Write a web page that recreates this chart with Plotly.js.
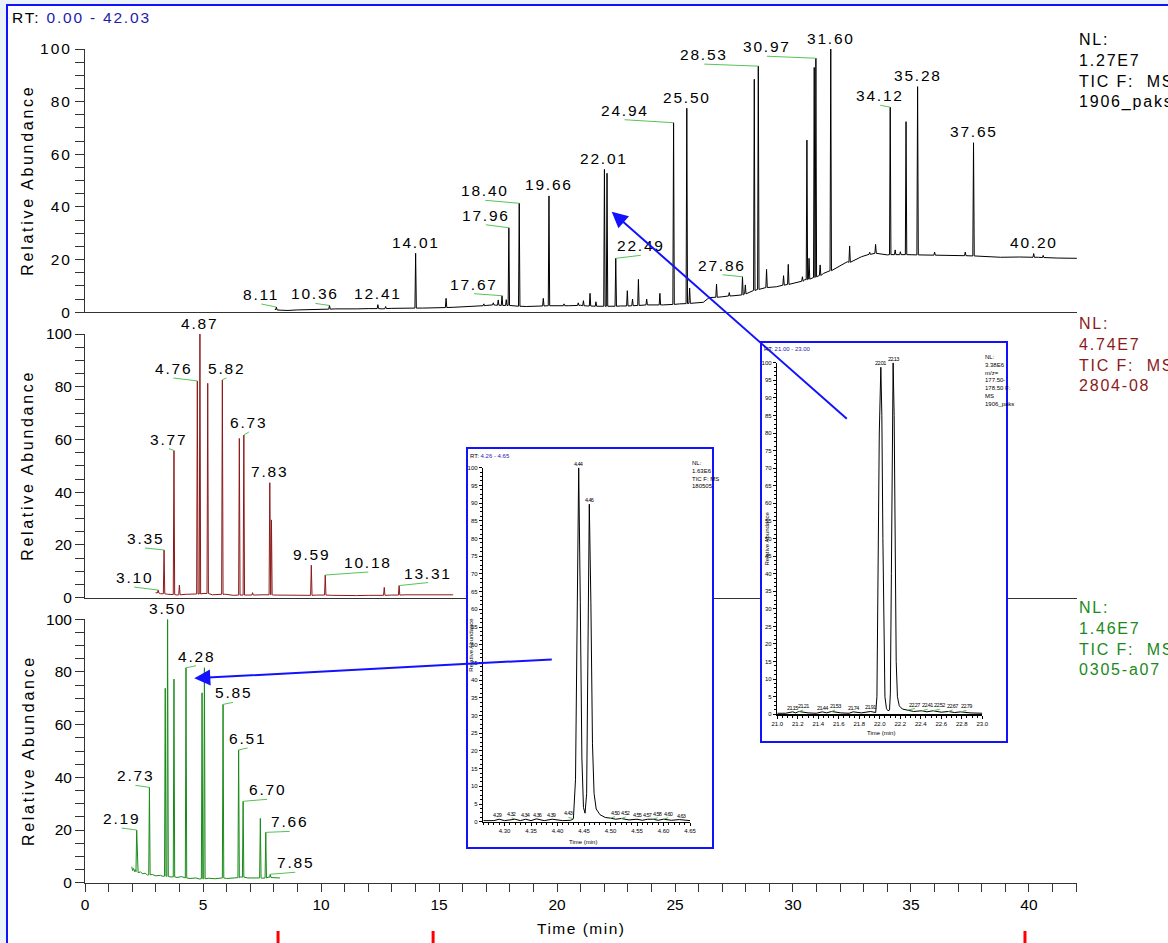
<!DOCTYPE html>
<html>
<head>
<meta charset="utf-8">
<script src="https://cdn.plot.ly/plotly-3.0.1.min.js"></script>
<style>
  html, body { margin: 0; padding: 0; background: #eaf2fa; }
  #chart { width: 1168px; height: 943px; }
  .subplot.xy .ytick text,
  .subplot.x2y2 .ytick text,
  .subplot.x3y3 .ytick text,
  .subplot.x3y3 .xtick text { letter-spacing: 2px; }
</style>
</head>
<body>
<div id="chart"></div>
<script>
// ---------- TIC trace 1906_paks (black) ----------
const p1BaseRt    = [8.05, 8.3, 8.6, 9.0, 9.5, 10.0, 10.6, 11.0, 11.5, 12.0, 12.6, 13.0, 13.5, 14.3, 15.0, 15.6, 16.0, 16.5, 17.0, 17.2, 17.4, 17.8, 18.2, 18.7, 19.2, 19.9, 20.5, 21.0, 21.3, 21.8, 22.3, 22.7, 23.3, 23.9, 24.5, 25.2, 25.8, 26.2, 26.45, 27.0, 27.5, 28.0, 28.7, 29.3, 30.0, 30.5, 31.3, 31.8, 32.3, 32.9, 33.5, 34.0, 35.0, 36.5, 37.2, 38.0, 38.8, 39.6, 40.4, 41.2, 42.03];
const p1BaseLevel = [1.2, 0.8, 0.7, 0.9, 1.0, 1.1, 1.3, 1.2, 1.3, 1.4, 1.3, 1.5, 1.5, 1.6, 1.7, 1.9, 2.1, 2.3, 2.6, 2.9, 2.7, 2.6, 2.3, 2.2, 2.4, 2.6, 2.5, 2.7, 2.4, 2.3, 2.2, 2.4, 2.6, 2.8, 2.8, 3.2, 3.5, 3.8, 5.6, 5.9, 6.3, 7.5, 9.1, 9.7, 11.0, 12.4, 14.8, 16.7, 19.2, 21.1, 22.6, 21.8, 21.8, 21.6, 21.5, 21.2, 20.9, 21.0, 20.9, 20.6, 20.5];
const p1PeakRt     = [8.11, 10.36, 12.41, 12.74, 14.01, 15.30, 16.90, 17.30, 17.51, 17.67, 17.85, 17.96, 18.40, 19.42, 19.66, 20.30, 20.90, 21.12, 21.40, 21.65, 22.01, 22.12, 22.49, 22.98, 23.20, 23.45, 23.80, 24.36, 24.94, 25.50, 25.62, 26.76, 27.30, 27.86, 27.98, 28.36, 28.53, 28.88, 29.60, 29.80, 30.40, 30.59, 30.68, 30.90, 30.97, 31.15, 31.60, 32.40, 33.25, 33.50, 34.12, 34.33, 34.55, 34.79, 35.28, 36.00, 37.30, 37.65, 40.20, 40.60];
const p1PeakHeight = [2.0, 2.6, 2.9, 2.2, 22.4, 5.3, 3.2, 3.6, 4.7, 6.3, 4.8, 32.1, 41.4, 5.3, 44.2, 3.2, 3.6, 4.4, 7.2, 4.0, 54.3, 52.8, 20.5, 8.2, 5.0, 12.5, 5.0, 7.2, 72.0, 77.5, 9.2, 10.7, 7.5, 13.5, 10.4, 88.5, 93.5, 16.3, 13.9, 18.2, 13.5, 65.4, 20.5, 93.0, 96.5, 18.0, 100, 25.2, 22.8, 25.8, 77.9, 23.7, 23.0, 72.4, 85.7, 22.9, 22.9, 64.4, 22.3, 21.6];
const p1PeakFoot   = [0.9, 1.2, 1.4, 1.4, 1.6, 1.8, 2.5, 2.8, 2.7, 2.6, 2.6, 2.6, 2.3, 2.4, 2.5, 2.5, 2.6, 2.5, 2.4, 2.3, 2.3, 2.3, 2.3, 2.4, 2.5, 2.6, 2.8, 2.8, 3.0, 3.3, 3.4, 5.7, 6.2, 6.6, 7.0, 8.3, 8.7, 9.4, 10.3, 10.6, 11.8, 12.4, 12.6, 13.2, 13.5, 14.0, 15.8, 19.0, 22.0, 22.4, 21.9, 21.9, 21.9, 21.9, 21.8, 21.7, 21.5, 21.4, 20.9, 20.8];
const p1Labels     = [8.11, 10.36, 12.41, 14.01, 17.67, 17.96, 18.40, 19.66, 22.01, 22.49, 24.94, 25.50, 27.86, 28.53, 30.97, 31.60, 34.12, 35.28, 37.65, 40.20];

// ---------- TIC trace 2804-08 (dark red) ----------
const p2BaseRt    = [2.99, 3.2, 3.5, 3.9, 4.3, 4.6, 5.0, 5.4, 5.95, 6.3, 7.0, 7.5, 8.0, 8.8, 9.4, 9.8, 10.5, 11.0, 11.5, 12.0, 12.5, 13.0, 13.6, 14.5, 15.0, 15.6];
const p2BaseLevel = [1.9, 1.5, 1.3, 1.0, 1.3, 1.5, 1.6, 1.1, 1.3, 0.9, 1.0, 1.1, 1.0, 0.9, 0.9, 1.0, 0.9, 0.8, 0.8, 0.9, 1.0, 1.0, 1.1, 1.0, 1.0, 1.1];
const p2PeakRt     = [3.10, 3.35, 3.77, 4.00, 4.76, 4.87, 5.20, 5.82, 6.54, 6.73, 7.10, 7.83, 7.90, 9.59, 10.18, 12.68, 13.31];
const p2PeakHeight = [2.9, 18.1, 55.8, 4.8, 82.2, 100, 81.3, 82.6, 60.4, 61.7, 1.9, 43.6, 29.5, 12.3, 8.6, 3.9, 4.6];
const p2PeakFoot   = [1.8, 1.5, 1.2, 1.1, 1.4, 1.4, 1.6, 1.3, 1.0, 1.0, 1.0, 1.1, 1.1, 0.9, 1.0, 0.9, 1.0];
const p2Labels     = [3.10, 3.35, 3.77, 4.76, 4.87, 5.82, 6.73, 7.83, 9.59, 10.18, 13.31];

// ---------- TIC trace 0305-a07 (green) ----------
const p3BaseRt    = [1.98, 2.02, 2.06, 2.10, 2.14, 2.25, 2.35, 2.45, 2.55, 2.65, 2.85, 3.00, 3.20, 3.30, 3.60, 3.90, 4.10, 4.45, 4.70, 4.85, 5.25, 5.50, 5.70, 6.00, 6.30, 6.60, 6.90, 7.20, 7.50, 7.80, 8.00, 8.26];
const p3BaseLevel = [6.1, 4.6, 5.4, 4.2, 4.9, 3.8, 4.1, 3.4, 3.6, 2.9, 3.1, 2.6, 2.8, 2.4, 2.2, 2.0, 2.3, 1.6, 1.8, 1.4, 1.7, 1.5, 1.8, 1.6, 1.7, 2.2, 1.8, 1.9, 1.7, 2.2, 1.9, 1.8];
const p3PeakRt     = [2.19, 2.73, 3.40, 3.50, 3.77, 4.28, 4.96, 5.06, 5.85, 6.51, 6.70, 7.43, 7.66, 7.85];
const p3PeakHeight = [20.0, 36.2, 73.8, 100, 77.3, 81.6, 72.1, 81.6, 67.7, 50.4, 30.9, 24.4, 19.1, 3.2];
const p3PeakFoot   = [4.2, 3.0, 2.5, 2.4, 2.2, 1.8, 1.5, 1.5, 1.8, 1.9, 2.1, 1.8, 1.8, 2.0];
const p3Labels     = [2.19, 2.73, 3.50, 4.28, 5.85, 6.51, 6.70, 7.66, 7.85];

// ---------- zoomed window 21.00-23.00 min, m/z 177.50-178.50 ----------
const insetARt    = [21.00, 21.08, 21.15, 21.18, 21.21, 21.30, 21.38, 21.44, 21.48, 21.53, 21.62, 21.70, 21.74, 21.82, 21.91, 21.96, 21.972, 21.985, 21.995, 22.01, 22.02, 22.03, 22.04, 22.05, 22.065, 22.08, 22.095, 22.103, 22.113, 22.122, 22.13, 22.14, 22.15, 22.16, 22.172, 22.19, 22.22, 22.27, 22.33, 22.41, 22.46, 22.52, 22.60, 22.67, 22.73, 22.79, 22.88, 23.00];
const insetAAbund = [0.3, 0.3, 0.7, 0.4, 0.8, 0.4, 0.3, 0.7, 0.4, 0.8, 0.4, 0.3, 0.7, 0.4, 0.8, 0.5, 5, 40, 80, 98.7, 85, 50, 18, 5, 1.6, 1.0, 1.2, 6, 40, 82, 100, 85, 48, 15, 5, 2.4, 1.5, 1.2, 0.8, 1.0, 0.7, 1.0, 0.6, 0.8, 0.5, 0.7, 0.4, 0.3];
const insetAMajor = [22.01, 22.13];
const insetAMinor = [21.15, 21.21, 21.44, 21.53, 21.74, 21.91, 22.27, 22.41, 22.52, 22.67, 22.79];

// ---------- zoomed window 4.26-4.65 min ----------
const insetBRt    = [4.26, 4.28, 4.29, 4.30, 4.32, 4.33, 4.34, 4.35, 4.36, 4.375, 4.39, 4.41, 4.425, 4.43, 4.434, 4.437, 4.44, 4.443, 4.446, 4.449, 4.452, 4.455, 4.458, 4.46, 4.463, 4.466, 4.469, 4.473, 4.48, 4.49, 4.50, 4.51, 4.52, 4.535, 4.55, 4.56, 4.57, 4.58, 4.59, 4.60, 4.615, 4.63, 4.65];
const insetBAbund = [0.3, 0.3, 0.7, 0.3, 0.7, 0.3, 0.7, 0.3, 0.8, 0.3, 0.7, 0.3, 0.4, 0.8, 12, 60, 100, 62, 18, 4, 2.4, 8, 55, 89.7, 62, 22, 8, 3.6, 2.0, 1.2, 1.0, 0.7, 0.9, 0.5, 0.7, 0.4, 0.7, 0.7, 0.4, 0.7, 0.4, 0.6, 0.3];
const insetBMajor = [4.44, 4.46];
const insetBMinor = [4.29, 4.32, 4.34, 4.36, 4.39, 4.43, 4.50, 4.52, 4.55, 4.57, 4.58, 4.60, 4.63];

// bottom event marks (min)
const eventMarks = [8.18, 14.75, 39.83];

// ---------- placement of labels (pixel offsets of the leader tail from the apex) ----------
const p1LabelOffset = [[-15,-3],[-14,-2],null,null,[-28,-2],[-23,-3],[-34,-3],null,null,[25,-3],[-49,-3],null,[-20,-2],[-54,-2],[-49,-2],null,[-10,-2],null,null,null];
const p2LabelOffset = [[-24,-3],[-19,-2],[-5,-2],[-24,-3],null,[4,-2],[5,-3],null,null,[43,-3],[29,-3]];
const p3LabelOffset = [[-15,-2],[-14,-2],null,[10,-2],[10,-2],[9,-2],[24,-2],[24,-1],[25,-2]];
const insetAMinorShift = [-0.5, 4.5, 0, 3.4, 0, 0, 7.5, 5.8, 6.8, 4, 5.8];
const insetBMinorShift = [-1.5, -3.4, 0, 1.4, -1.2, -5, 4.5, 4.6, 0, 0, 4.8, 4.8, 1.6];

// ---------- styling ----------
const W = 1168, H = 943;
const fx = p => p / W;
const fy = p => 1 - p / H;
const FONT = 'Liberation Sans, Arial, sans-serif';
const NARROW = 'Liberation Sans Narrow, Liberation Sans, Arial, sans-serif';
const AXIS = '#333333';
const LEADER = '#55c455';
const BLUE = '#1212ff';
const RED_TRACE = '#8b1a1a';
const GREEN_TRACE = '#1a8a1a';
const HW = 0.03; // half width of a peak foot, minutes

const spaced = (t, ls, color) =>
  `<span style="${color ? 'color:' + color + ';' : ''}letter-spacing:${ls}px">${t}</span>`;

function chromatogram(baseRt, baseLevel, peakRt, peakHeight, peakFoot) {
  const pts = [];
  baseRt.forEach((r, i) => {
    if (peakRt.every(p => Math.abs(p - r) > HW)) pts.push([r, baseLevel[i]]);
  });
  peakRt.forEach((r, i) => {
    pts.push([r - HW, peakFoot[i]], [r, peakHeight[i]], [r + HW, peakFoot[i]]);
  });
  pts.sort((a, b) => a[0] - b[0]);
  return { x: pts.map(p => p[0]), y: pts.map(p => p[1]) };
}

function peakLabels(labels, offsets, peakRt, peakHeight, xref, yref) {
  return labels.map((r, i) => {
    const a = {
      x: r, y: peakHeight[peakRt.indexOf(r)], xref, yref,
      text: spaced(r.toFixed(2), 1.8), font: { size: 15.5, color: '#000', family: FONT },
      borderpad: 0, xanchor: 'center'
    };
    const off = offsets[i];
    if (off) Object.assign(a, { showarrow: true, arrowhead: 0, arrowwidth: 1, arrowcolor: LEADER,
      ax: off[0], ay: off[1], yanchor: 'bottom', standoff: 0 });
    else Object.assign(a, { showarrow: false, yanchor: 'middle', yshift: 11 });
    return a;
  });
}

function insetLabels(labels, shifts, rt, ab, xref, yref) {
  return labels.map((r, i) => {
    const a = { x: r, y: ab[rt.indexOf(r)], xref, yref, text: spaced(r.toFixed(2), -0.6),
      font: { size: 5.5, color: '#000', family: NARROW }, borderpad: 0, xanchor: 'center', yanchor: 'bottom' };
    const s = shifts ? shifts[i] : 0;
    if (Math.abs(s) >= 3) Object.assign(a, { showarrow: true, arrowhead: 0, arrowwidth: 1,
      arrowcolor: LEADER, ax: s, ay: -1.5, standoff: 0 });
    else Object.assign(a, { showarrow: false, xshift: s });
    return a;
  });
}

const c1 = chromatogram(p1BaseRt, p1BaseLevel, p1PeakRt, p1PeakHeight, p1PeakFoot);
const c2 = chromatogram(p2BaseRt, p2BaseLevel, p2PeakRt, p2PeakHeight, p2PeakFoot);
const c3 = chromatogram(p3BaseRt, p3BaseLevel, p3PeakRt, p3PeakHeight, p3PeakFoot);

const lineTrace = (c, xa, ya, color, w) => ({
  type: 'scatter', mode: 'lines', x: c.x, y: c.y, xaxis: xa, yaxis: ya,
  line: { color, width: w || 1 }, hoverinfo: 'skip', showlegend: false
});
const blank = (xa, ya) => ({ type: 'scatter', mode: 'lines', x: [], y: [], xaxis: xa, yaxis: ya, hoverinfo: 'skip', showlegend: false });

const data = [
  lineTrace(c1, 'x', 'y', '#000000'),
  lineTrace(c2, 'x2', 'y2', RED_TRACE),
  lineTrace(c3, 'x3', 'y3', GREEN_TRACE),
  blank('x4', 'y4'),
  lineTrace({ x: insetARt, y: insetAAbund }, 'x5', 'y5', '#000000'),
  blank('x6', 'y6'),
  lineTrace({ x: insetBRt, y: insetBAbund }, 'x7', 'y7', '#000000')
];

// ---------- axes ----------
const X_DOMAIN = [fx(85), fx(1076.9)];
function mainX(anchor, withTicks) {
  const ax = { domain: X_DOMAIN, range: [0, 42.03], anchor, showline: true, linecolor: AXIS, linewidth: 1,
    showgrid: false, zeroline: false, fixedrange: true, showticklabels: withTicks,
    ticks: withTicks ? 'outside' : '', ticklen: 8, tickcolor: AXIS, tickwidth: 1, dtick: 5, tick0: 0,
    tickfont: { size: 15.5, color: '#000', family: FONT } };
  if (withTicks) ax.minor = { dtick: 1, ticks: 'outside', ticklen: 8, tickcolor: AXIS, tickwidth: 1, showgrid: false };
  return ax;
}
function mainY(anchor, bottomPx, topPx) {
  return { domain: [fy(bottomPx), fy(topPx)], range: [0, 100], anchor, showline: true, linecolor: AXIS, linewidth: 1,
    showgrid: false, zeroline: false, fixedrange: true, ticks: 'outside', ticklen: 9, tickcolor: AXIS, tickwidth: 1,
    dtick: 20, tick0: 0, tickfont: { size: 15.5, color: '#000', family: FONT },
    minor: { dtick: 5, ticks: 'outside', ticklen: 9, tickcolor: AXIS, tickwidth: 1, showgrid: false } };
}
const hidden = (l, r, anchor) => ({ domain: [fx(l), fx(r)], anchor, range: [0, 1], showline: false, showticklabels: false,
  ticks: '', showgrid: false, zeroline: false, fixedrange: true });
const hiddenY = (b, t, anchor) => ({ domain: [fy(b), fy(t)], anchor, range: [0, 1], showline: false, showticklabels: false,
  ticks: '', showgrid: false, zeroline: false, fixedrange: true });
function insetX(l, r, range, tick0, dtick, fmt, minorDtick, anchor) {
  return { domain: [fx(l), fx(r)], range, anchor, showline: true, linecolor: '#000', linewidth: 1.5,
    showgrid: false, zeroline: false, fixedrange: true, ticks: 'outside', ticklen: 3, tickcolor: '#000', tickwidth: 1,
    tick0, dtick, tickformat: fmt, tickfont: { size: 6, color: '#000', family: NARROW },
    minor: { dtick: minorDtick, ticks: 'outside', ticklen: 2, tickcolor: '#000', tickwidth: 1, showgrid: false } };
}
function insetY(b, t, anchor) {
  return { domain: [fy(b), fy(t)], range: [0, 100], anchor, showline: true, linecolor: '#000', linewidth: 1.5,
    showgrid: false, zeroline: false, fixedrange: true, ticks: 'outside', ticklen: 3, tickcolor: '#000', tickwidth: 1,
    tick0: 0, dtick: 5, tickfont: { size: 6, color: '#000', family: NARROW },
    minor: { dtick: 1.25, ticks: 'outside', ticklen: 2, tickcolor: '#000', tickwidth: 1, showgrid: false } };
}

// inset boxes (pixel bounds)
const boxA = { l: 761, r: 1007, t: 342, b: 742 };
const boxB = { l: 467, r: 713, t: 448, b: 848 };

const annotations = [];
annotations.push({ x: fx(10), y: fy(18), xref: 'paper', yref: 'paper', xanchor: 'left', yanchor: 'middle', showarrow: false,
  text: spaced('RT:\u00a0', 1.8) + spaced('0.00 - 42.03', 1.8, '#1c1cb0'), font: { size: 15.5, color: '#000', family: FONT } });

// trace descriptions on the right
[
  { top: 29, color: '#000000', lines: ['NL:', '1.27E7', 'TIC F:\u00a0\u00a0MS', '1906_paks'] },
  { top: 313, color: RED_TRACE, lines: ['NL:', '4.74E7', 'TIC F:\u00a0\u00a0MS', '2804-08'] },
  { top: 597, color: GREEN_TRACE, lines: ['NL:', '1.46E7', 'TIC F:\u00a0\u00a0MS', '0305-a07'] }
].forEach(d => annotations.push({ x: fx(1077), y: fy(d.top), xref: 'paper', yref: 'paper', xanchor: 'left', yanchor: 'top',
  align: 'left', showarrow: false, text: spaced(d.lines.join('<br>'), 1.8), font: { size: 16, color: d.color, family: FONT } }));

// y titles
[[49, 312.3], [334, 597.7], [619.3, 882.7]].forEach(p => annotations.push({
  x: fx(28), y: fy((p[0] + p[1]) / 2), xref: 'paper', yref: 'paper', textangle: -90, showarrow: false,
  xanchor: 'center', yanchor: 'middle', text: spaced('Relative Abundance', 2.7), font: { size: 16, color: '#000', family: FONT } }));
annotations.push({ x: fx(581), y: fy(928), xref: 'paper', yref: 'paper', showarrow: false, xanchor: 'center', yanchor: 'middle',
  text: spaced('Time (min)', 1.5), font: { size: 15.5, color: '#000', family: FONT } });

annotations.push(...peakLabels(p1Labels, p1LabelOffset, p1PeakRt, p1PeakHeight, 'x', 'y'));
annotations.push(...peakLabels(p2Labels, p2LabelOffset, p2PeakRt, p2PeakHeight, 'x2', 'y2'));
annotations.push(...peakLabels(p3Labels, p3LabelOffset, p3PeakRt, p3PeakHeight, 'x3', 'y3'));

// inset texts
const small = (x, y, text, opts) => Object.assign({ x: fx(x), y: fy(y), xref: 'paper', yref: 'paper', showarrow: false,
  text, font: { size: 6, color: '#000', family: NARROW } }, opts);
annotations.push(small(762, 349, 'RT:\u00a0' + spaced('21.00 - 23.00', 0, '#1c1cb0'), { xanchor: 'left', yanchor: 'middle' }));
annotations.push(small(983, 352, 'NL:<br>3.38E6<br>m/z=<br>177.50-<br>178.50 F:<br>MS<br>1906_paks', { xanchor: 'left', yanchor: 'top', align: 'left' }));
annotations.push(small(766, (362.7 + 714.3) / 2, 'Relative Abundance', { textangle: -90, xanchor: 'center', yanchor: 'middle' }));
annotations.push(small(880.7, 733.3, 'Time (min)', { xanchor: 'center', yanchor: 'middle' }));
annotations.push(small(468, 455.7, 'RT:\u00a0' + spaced('4.26 - 4.65', 0, '#1c1cb0'), { xanchor: 'left', yanchor: 'middle' }));
annotations.push(small(690, 458, 'NL:<br>1.63E6<br>TIC F: MS<br>180505', { xanchor: 'left', yanchor: 'top', align: 'left' }));
annotations.push(small(471, (467.7 + 821.7) / 2, 'Relative Abundance', { textangle: -90, xanchor: 'center', yanchor: 'middle' }));
annotations.push(small(583.3, 841.7, 'Time (min)', { xanchor: 'center', yanchor: 'middle' }));
annotations.push(...insetLabels(insetAMajor, null, insetARt, insetAAbund, 'x5', 'y5'));
annotations.push(...insetLabels(insetAMinor, insetAMinorShift, insetARt, insetAAbund, 'x5', 'y5'));
annotations.push(...insetLabels(insetBMajor, null, insetBRt, insetBAbund, 'x7', 'y7'));
annotations.push(...insetLabels(insetBMinor, insetBMinorShift, insetBRt, insetBAbund, 'x7', 'y7'));

// pointers from the zoomed windows to their peaks
const pointer = (tipX, tipY, tailX, tailY) => ({ x: fx(tipX), y: fy(tipY), xref: 'paper', yref: 'paper',
  ax: tailX - tipX, ay: tailY - tipY, text: '', showarrow: true, arrowhead: 2, arrowsize: 1.6, arrowwidth: 2,
  arrowcolor: BLUE, standoff: 0 });
annotations.push(pointer(611.7, 211.7, 848.3, 420));
annotations.push(pointer(194.3, 678.3, 553.3, 659.3));

const shapes = [
  { type: 'rect', xref: 'paper', yref: 'paper', x0: fx(7), x1: 1.05, y0: -0.05, y1: fy(5),
    line: { color: BLUE, width: 2 }, fillcolor: '#ffffff', layer: 'below' },
  ...[boxA, boxB].map(b => ({ type: 'rect', xref: 'paper', yref: 'paper', x0: fx(b.l), x1: fx(b.r), y0: fy(b.b), y1: fy(b.t),
    line: { color: BLUE, width: 2 }, fillcolor: 'rgba(0,0,0,0)', layer: 'above' })),
  ...eventMarks.map(t => ({ type: 'line', xref: 'x3', yref: 'paper', x0: t, x1: t, y0: 0, y1: fy(931),
    line: { color: '#ff0000', width: 3 }, layer: 'above' }))
];

const layout = {
  width: W, height: H, margin: { l: 0, r: 0, t: 0, b: 0, pad: 0 },
  paper_bgcolor: '#eaf2fa', plot_bgcolor: '#ffffff', showlegend: false,
  font: { family: FONT, color: '#000' },
  xaxis: mainX('y', false), yaxis: mainY('x', 312.3, 49),
  xaxis2: mainX('y2', false), yaxis2: mainY('x2', 597.7, 334),
  xaxis3: mainX('y3', true), yaxis3: mainY('x3', 882.7, 619.3),
  xaxis4: hidden(boxA.l, boxA.r, 'y4'), yaxis4: hiddenY(boxA.b, boxA.t, 'x4'),
  xaxis5: insetX(777.3, 982.3, [21.0, 23.0], 21.0, 0.2, '.1f', 0.05, 'y5'), yaxis5: insetY(714.3, 362.7, 'x5'),
  xaxis6: hidden(boxB.l, boxB.r, 'y6'), yaxis6: hiddenY(boxB.b, boxB.t, 'x6'),
  xaxis7: insetX(483.3, 690, [4.26, 4.65], 4.30, 0.05, '.2f', 0.01, 'y7'), yaxis7: insetY(821.7, 467.7, 'x7'),
  annotations, shapes
};

Plotly.newPlot('chart', data, layout, { staticPlot: true, displayModeBar: false });
</script>
</body>
</html>
